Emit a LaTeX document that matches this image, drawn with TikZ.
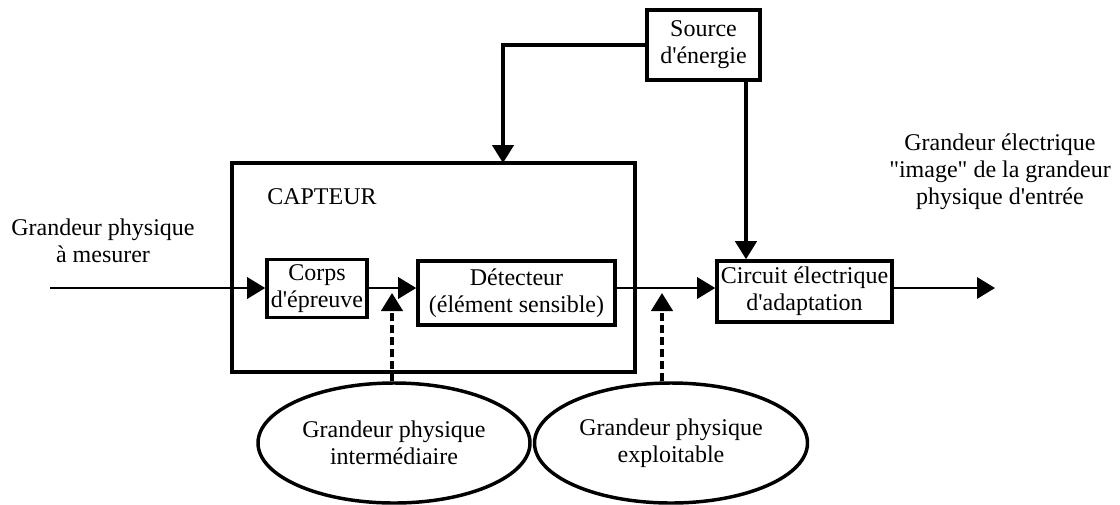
\documentclass[tikz,border=0pt]{standalone}
\usepackage{fontspec}
\setmainfont{Liberation Serif}[Ligatures=TeXOff]
\usetikzlibrary{arrows.meta,shapes.geometric}
\begin{document}
\begin{tikzpicture}[x=0.75pt,y=-0.75pt,
  every node/.style={font=\fontsize{18}{20.25}\selectfont, align=center, inner sep=0pt},
  blk/.style={draw, line width=2.7pt, rectangle},
  ell/.style={draw, line width=2.6pt, ellipse},
  tip/.style={-{Triangle[length=13.5pt,width=16pt]}},
  sig/.style={tip, line width=1.6pt},
  pwr/.style={tip, line width=2.5pt},
  dsh/.style={tip, line width=2.5pt, dash pattern=on 6pt off 3pt}]
\useasboundingbox (0,0) rectangle (1120,504);
% boxes
\node[blk, minimum width=302.25pt, minimum height=156.75pt] (capteur) at (433.5,267.5) {};
\node[anchor=west] (cap) at (267,197) {CAPTEUR};
\node[blk, minimum width=75pt, minimum height=43.5pt] (corps) at (317,288.5) {Corps\\d'épreuve};
\node[blk, minimum width=147.75pt, minimum height=48pt] (det) at (516.5,293) {Détecteur\\(élément sensible)};
\node[blk, minimum width=131.25pt, minimum height=45.75pt] (circ) at (804.5,291.5) {Circuit électrique\\d'adaptation};
\node[blk, minimum width=84.75pt, minimum height=52.5pt] (src) at (703.5,45) {Source\\d'énergie};
\node[ell, minimum width=204pt, minimum height=90pt] (e1) at (394,443) {Grandeur physique\\intermédiaire};
\node[ell, minimum width=204.75pt, minimum height=90pt] (e2) at (671,443) {Grandeur physique\\exploitable};
% labels
\node (lin) at (103,241) {Grandeur physique\\à mesurer};
\node (lout) at (1000,172) {Grandeur électrique\\"image" de la grandeur\\physique d'entrée};
% coordinates
\coordinate (in) at (50,288);
\coordinate (out) at (995,288);
\coordinate (capin) at (503,163);
\coordinate (sx) at (746,0);
\coordinate (t1) at (392,293);
\coordinate (t2) at (662,293);
% connectors
\draw[sig] (in) -- (in -| corps.west);
\draw[sig] (corps.east |- in) -- (in -| det.west);
\draw[sig] (det.east |- in) -- (in -| circ.west);
\draw[sig] (circ.east |- in) -- (out);
\draw[pwr] (src.west) -| (capin);
\draw[pwr] (src.south -| sx) -- (circ.north -| sx);
\draw[dsh] (e1.north -| t1) -- (t1);
\draw[dsh] (e2.north -| t2) -- (t2);
\end{tikzpicture}
\end{document}
